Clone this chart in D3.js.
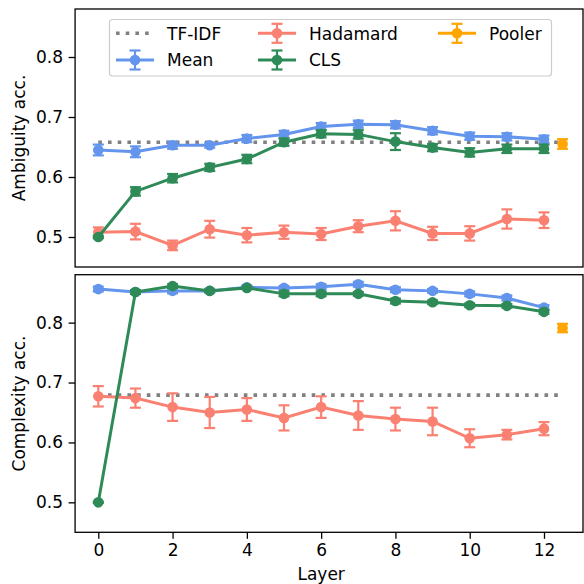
<!DOCTYPE html>
<html>
<head>
<meta charset="utf-8">
<script src="https://cdn.jsdelivr.net/npm/d3@7"></script>
<style>
  body { margin: 0; background: #fff; }
  text { font-family: "DejaVu Sans", sans-serif; font-size: 17px; fill: #000; }
</style>
</head>
<body>
<svg width="584" height="584"></svg>
<script>
var layers = [0, 1, 2, 3, 4, 5, 6, 7, 8, 9, 10, 11, 12],
    poolerX = 12.5;

// ambiguity panel
var ambMean     = [0.645, 0.642, 0.653, 0.653, 0.664, 0.671, 0.684, 0.688, 0.687, 0.677, 0.668, 0.667, 0.663],
    ambMeanErr  = [0.009, 0.009, 0.006, 0.004, 0.006, 0.006, 0.006, 0.006, 0.006, 0.006, 0.006, 0.006, 0.006],
    ambHad      = [0.508, 0.509, 0.486, 0.513, 0.503, 0.508, 0.505, 0.518, 0.527, 0.506, 0.506, 0.530, 0.528],
    ambHadErr   = [0.008, 0.013, 0.008, 0.014, 0.012, 0.011, 0.010, 0.010, 0.016, 0.011, 0.012, 0.016, 0.013],
    ambCls      = [0.500, 0.576, 0.598, 0.616, 0.630, 0.658, 0.672, 0.671, 0.659, 0.649, 0.641, 0.647, 0.647],
    ambClsErr   = [0.002, 0.007, 0.007, 0.006, 0.007, 0.006, 0.006, 0.007, 0.014, 0.006, 0.007, 0.007, 0.007],
    ambTfidf    = 0.658,
    ambPooler   = 0.655,
    ambPoolerErr = 0.008;

// complexity panel
var compMean     = [0.856, 0.851, 0.853, 0.853, 0.859, 0.858, 0.860, 0.864, 0.855, 0.853, 0.848, 0.841, 0.825],
    compMeanErr  = [0.004, 0.003, 0.004, 0.003, 0.003, 0.003, 0.004, 0.004, 0.004, 0.003, 0.004, 0.004, 0.004],
    compHad      = [0.677, 0.674, 0.659, 0.650, 0.655, 0.641, 0.659, 0.645, 0.639, 0.635, 0.607, 0.613, 0.623],
    compHadErr   = [0.017, 0.016, 0.023, 0.026, 0.019, 0.021, 0.018, 0.024, 0.019, 0.023, 0.015, 0.008, 0.011],
    compCls      = [0.500, 0.851, 0.861, 0.853, 0.858, 0.848, 0.848, 0.848, 0.836, 0.834, 0.829, 0.828, 0.818],
    compClsErr   = [0.001, 0.003, 0.003, 0.002, 0.002, 0.004, 0.004, 0.003, 0.004, 0.003, 0.003, 0.003, 0.003],
    compTfidf    = 0.679,
    compPooler   = 0.791,
    compPoolerErr = 0.007;

var yTicks = [0.5, 0.6, 0.7, 0.8],
    xTicks = [0, 2, 4, 6, 8, 10, 12];

var colors = {Mean: "#6495ed", Hadamard: "#fa8072", CLS: "#2e8b57", Pooler: "#ffa500", TFIDF: "#808080"};

var svg = d3.select("svg");

var x = d3.scaleLinear().domain([0, 12]).range([98.3, 544]);
var left = x(-0.625), right = 583;

var panels = [
  {top: 9, bottom: 267, label: "Ambiguity acc.", mean: ambMean, meanErr: ambMeanErr, had: ambHad, hadErr: ambHadErr,
   cls: ambCls, clsErr: ambClsErr, tfidf: ambTfidf, pooler: ambPooler, poolerErr: ambPoolerErr, xaxis: false},
  {top: 274.7, bottom: 532.3, label: "Complexity acc.", mean: compMean, meanErr: compMeanErr, had: compHad, hadErr: compHadErr,
   cls: compCls, clsErr: compClsErr, tfidf: compTfidf, pooler: compPooler, poolerErr: compPoolerErr, xaxis: true}
];

panels.forEach(function(p) {
  var y = d3.scaleLinear().domain([0.45, 0.88]).range([p.bottom, p.top]);
  var g = svg.append("g");

  // tf-idf baseline
  g.append("line")
      .attr("x1", x(0)).attr("x2", x(poolerX))
      .attr("y1", y(p.tfidf)).attr("y2", y(p.tfidf))
      .attr("stroke", colors.TFIDF).attr("stroke-width", 3.6)
      .attr("stroke-dasharray", "3.6 6.1");

  var series = [
    {xs: layers, vals: p.mean, errs: p.meanErr, color: colors.Mean},
    {xs: layers, vals: p.had, errs: p.hadErr, color: colors.Hadamard},
    {xs: layers, vals: p.cls, errs: p.clsErr, color: colors.CLS},
    {xs: [poolerX], vals: [p.pooler], errs: [p.poolerErr], color: colors.Pooler}
  ];

  series.forEach(function(s) {
    var pts = s.xs.map(function(d, i) { return {x: d, v: s.vals[i], e: s.errs[i]}; });
    var sg = g.append("g");
    sg.append("path")
        .attr("d", d3.line().x(function(d) { return x(d.x); }).y(function(d) { return y(d.v); })(pts))
        .attr("fill", "none").attr("stroke", s.color).attr("stroke-width", 3);
    var eb = sg.selectAll(".eb").data(pts).enter().append("g")
        .attr("stroke", s.color).attr("stroke-width", 2.2);
    eb.append("line")
        .attr("x1", function(d) { return x(d.x); }).attr("x2", function(d) { return x(d.x); })
        .attr("y1", function(d) { return y(d.v - d.e); }).attr("y2", function(d) { return y(d.v + d.e); });
    [-1, 1].forEach(function(sign) {
      eb.append("line")
          .attr("x1", function(d) { return x(d.x) - 5.5; }).attr("x2", function(d) { return x(d.x) + 5.5; })
          .attr("y1", function(d) { return y(d.v + sign * d.e); }).attr("y2", function(d) { return y(d.v + sign * d.e); });
    });
    sg.selectAll("circle").data(pts).enter().append("circle")
        .attr("cx", function(d) { return x(d.x); }).attr("cy", function(d) { return y(d.v); })
        .attr("r", 5.3).attr("fill", s.color);
  });

  // frame
  g.append("rect")
      .attr("x", left).attr("y", p.top)
      .attr("width", right - left).attr("height", p.bottom - p.top)
      .attr("fill", "none").attr("stroke", "#000").attr("stroke-width", 1.3);

  // y axis
  var ya = g.append("g").attr("transform", "translate(" + left + ",0)")
      .call(d3.axisLeft(y).tickValues(yTicks).tickFormat(d3.format(".1f")).tickSizeOuter(0).tickSize(6.5).tickPadding(5.5));
  ya.select(".domain").remove();
  ya.selectAll("line").attr("stroke-width", 1.3);
  ya.selectAll("text").attr("font-family", null).attr("font-size", null);

  g.append("text")
      .attr("transform", "translate(25," + ((p.top + p.bottom) / 2) + ") rotate(-90)")
      .attr("text-anchor", "middle")
      .text(p.label);

  if (p.xaxis) {
    var xa = g.append("g").attr("transform", "translate(0," + p.bottom + ")")
        .call(d3.axisBottom(x).tickValues(xTicks).tickFormat(d3.format("d")).tickSizeOuter(0).tickSize(6.5).tickPadding(5.5));
    xa.select(".domain").remove();
    xa.selectAll("line").attr("stroke-width", 1.3);
    xa.selectAll("text").attr("font-family", null).attr("font-size", null);
    g.append("text")
        .attr("x", x(6)).attr("y", 580)
        .attr("text-anchor", "middle")
        .text("Layer");
  }
});

// legend
var legend = svg.append("g");
legend.append("rect")
    .attr("x", 109.5).attr("y", 19.5).attr("width", 442).attr("height", 56.5)
    .attr("rx", 3).attr("fill", "#fff").attr("fill-opacity", 0.8)
    .attr("stroke", "#cccccc").attr("stroke-width", 1.2);

var legendItems = [
  {name: "TF-IDF", color: colors.TFIDF, x0: 116, cy: 33.3, dotted: true},
  {name: "Mean", color: colors.Mean, x0: 116, cy: 60},
  {name: "Hadamard", color: colors.Hadamard, x0: 258, cy: 33.3},
  {name: "CLS", color: colors.CLS, x0: 258, cy: 60},
  {name: "Pooler", color: colors.Pooler, x0: 438, cy: 33.3}
];

legendItems.forEach(function(d) {
  var lg = legend.append("g");
  if (d.dotted) {
    lg.append("line").attr("x1", d.x0).attr("x2", d.x0 + 37).attr("y1", d.cy).attr("y2", d.cy)
        .attr("stroke", d.color).attr("stroke-width", 3.6).attr("stroke-dasharray", "3.6 6.1");
  } else {
    var cx = d.x0 + 19;
    lg.append("line").attr("x1", d.x0).attr("x2", d.x0 + 38).attr("y1", d.cy).attr("y2", d.cy)
        .attr("stroke", d.color).attr("stroke-width", 3);
    lg.append("line").attr("x1", cx).attr("x2", cx).attr("y1", d.cy - 9.5).attr("y2", d.cy + 9.5)
        .attr("stroke", d.color).attr("stroke-width", 2.2);
    [-9.5, 9.5].forEach(function(o) {
      lg.append("line").attr("x1", cx - 5.5).attr("x2", cx + 5.5).attr("y1", d.cy + o).attr("y2", d.cy + o)
          .attr("stroke", d.color).attr("stroke-width", 2.2);
    });
    lg.append("circle").attr("cx", cx).attr("cy", d.cy).attr("r", 5.3).attr("fill", d.color);
  }
  lg.append("text").attr("x", d.x0 + 51).attr("y", d.cy + 6.2).text(d.name);
});
</script>
</body>
</html>
